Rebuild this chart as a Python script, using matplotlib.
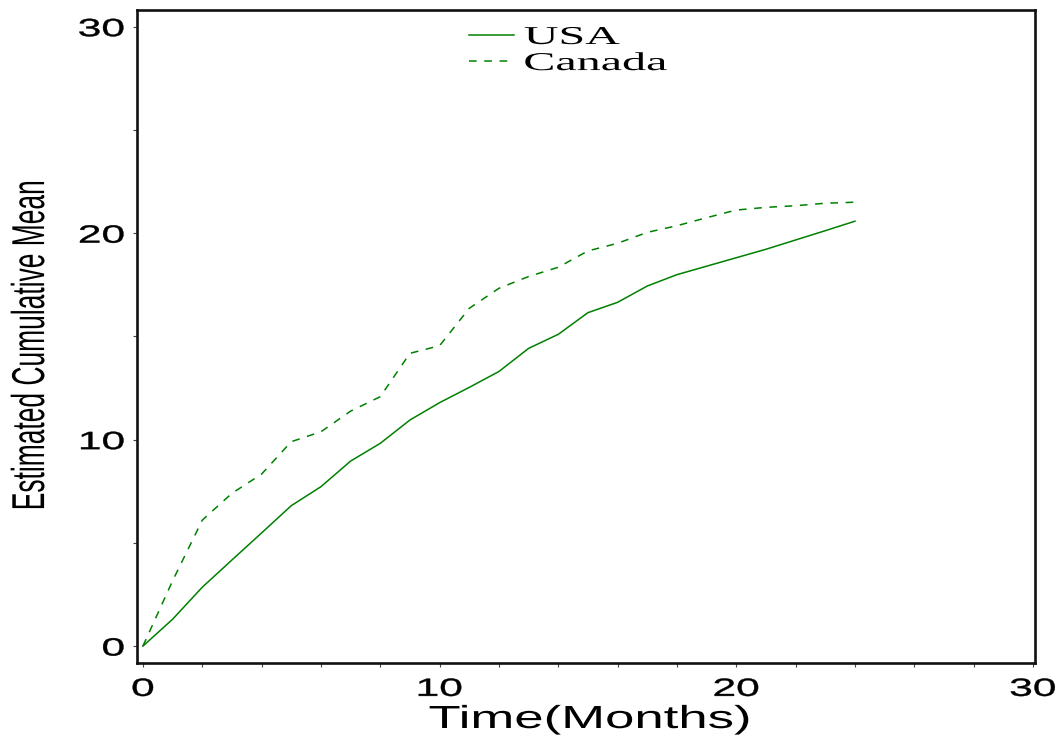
import matplotlib
matplotlib.use("Agg")
import matplotlib.pyplot as plt
from matplotlib.patheffects import AbstractPathEffect
from matplotlib.transforms import Affine2D

months = list(range(25))
usa = [0, 1.3, 2.85, 4.17, 5.48, 6.8, 7.72, 8.96, 9.82, 10.95, 11.79, 12.53, 13.3,
       14.42, 15.1, 16.15, 16.65, 17.44, 17.99, 18.4, 18.81, 19.22, 19.67, 20.12, 20.58]
canada = [0, 3.16, 6.1, 7.4, 8.33, 9.9, 10.38, 11.38, 12.08, 14.18, 14.55, 16.36, 17.33,
          17.9, 18.35, 19.14, 19.51, 20.04, 20.36, 20.75, 21.12, 21.25, 21.33, 21.45, 21.5]
series_names = ["USA", "Canada"]
x_ticks = [0, 10, 20, 30]
y_ticks = [0, 10, 20, 30]

W, H = 1061, 740


class HStretch(AbstractPathEffect):
    """Widen glyphs horizontally (the source image is stretched sideways)."""

    def __init__(self, sx, anchor="center", stroke=0.0):
        super().__init__()
        self.sx = sx
        self.anchor = anchor
        self.stroke = stroke

    def draw_path(self, renderer, gc, tpath, affine, rgbFace=None):
        bb = tpath.get_extents(affine)
        x0 = {"left": bb.x0, "center": (bb.x0 + bb.x1) / 2, "right": bb.x1}[self.anchor]
        t = affine + Affine2D().translate(-x0, 0).scale(self.sx, 1).translate(x0, 0)
        gc0 = renderer.new_gc()
        gc0.copy_properties(gc)
        if self.stroke > 0:
            gc0.set_linewidth(self.stroke)
            gc0.set_foreground(rgbFace)
        renderer.draw_path(gc0, tpath, t, rgbFace)
        gc0.restore()


plt.rcParams["font.family"] = "Liberation Sans"

fig = plt.figure(figsize=(W / 100, H / 100), dpi=100)
ax = fig.add_axes([137 / W, 1 - 663 / H, (1035 - 137) / W, (663 - 10) / H])

ax.plot(months, usa, color="green", lw=1.1, label=series_names[0])
ax.plot(months, canada, color="green", lw=1.1, dashes=(5, 5), label=series_names[1])

ax.set_xlim(-0.2, 30.07)
ax.set_ylim(-0.82, 30.81)
ax.set_xticks(x_ticks)
ax.set_yticks(y_ticks)
ax.set_xticks(range(0, 31, 2), minor=True)
ax.set_yticks(range(0, 31, 5), minor=True)

for s in ax.spines.values():
    s.set_linewidth(1.9)
    s.set_color("#111111")
ax.tick_params(which="both", direction="out", length=3, width=0.8, color="#444444")
ax.tick_params(axis="x", labelsize=18, pad=7)
ax.tick_params(axis="y", labelsize=18, pad=6)

for lab in ax.get_xticklabels():
    lab.set_path_effects([HStretch(1.7, "center", 0.3)])
for lab in ax.get_yticklabels():
    lab.set_path_effects([HStretch(1.7, "right", 0.3)])

fig.text(590 / W, 12 / H, "Time(Months)", ha="center", va="baseline", fontsize=23,
         path_effects=[HStretch(1.65, "center")])
fig.text(30 / W, 1 - 345 / H, "Estimated Cumulative Mean", ha="center", va="center",
         rotation=90, fontsize=19, path_effects=[HStretch(1.75, "center")])

leg = ax.legend(loc="upper left", bbox_to_anchor=(469 / W, 1 - 26 / H),
                bbox_transform=fig.transFigure, frameon=False, borderpad=0,
                borderaxespad=0, handlelength=1.75, handletextpad=0.4,
                labelspacing=0.12, prop={"family": "Liberation Serif", "size": 18.5})
for t in leg.get_texts():
    t.set_path_effects([HStretch(1.87, "left")])

fig.savefig("out.png", dpi=100)
